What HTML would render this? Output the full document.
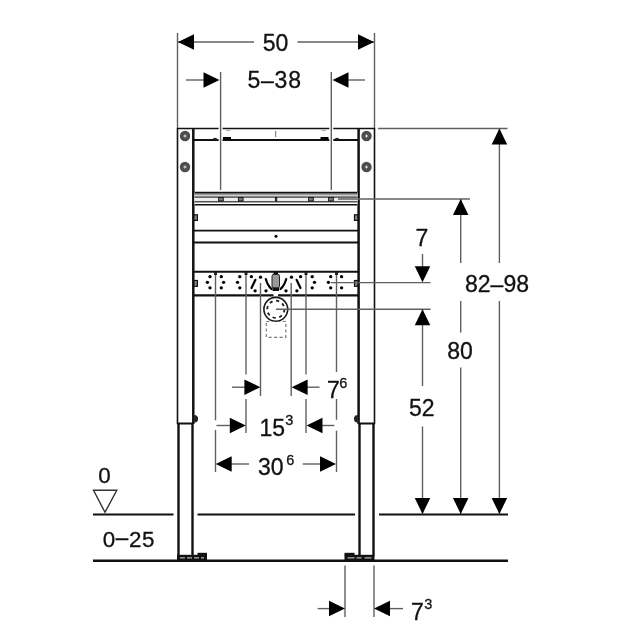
<!DOCTYPE html>
<html><head><meta charset="utf-8"><style>
html,body{margin:0;padding:0;background:#fff;}
svg{display:block;filter:grayscale(1);}
text{font-family:"Liberation Sans",sans-serif;fill:#111;stroke:#111;stroke-width:0.3px;}
</style></head><body>
<svg width="640" height="640" viewBox="0 0 640 640">
<rect width="640" height="640" fill="#fff"/>
<line x1="177.5" y1="33" x2="177.5" y2="128" stroke="#606060" stroke-width="1.4" />
<line x1="374.5" y1="33" x2="374.5" y2="128" stroke="#606060" stroke-width="1.4" />
<line x1="178" y1="42" x2="254" y2="42" stroke="#606060" stroke-width="1.4" />
<line x1="297.5" y1="42" x2="374" y2="42" stroke="#606060" stroke-width="1.4" />
<polygon points="178.00,42.00 194.00,34.25 194.00,49.75" fill="#000"/>
<polygon points="374.00,42.00 358.00,34.25 358.00,49.75" fill="#000"/>
<text x="275.5" y="50.5" font-size="23" text-anchor="middle" >50</text>
<line x1="186" y1="80" x2="204" y2="80" stroke="#606060" stroke-width="1.4" />
<line x1="347" y1="80" x2="365" y2="80" stroke="#606060" stroke-width="1.4" />
<polygon points="219.50,80.00 203.50,72.25 203.50,87.75" fill="#000"/>
<polygon points="332.50,80.00 348.50,72.25 348.50,87.75" fill="#000"/>
<text x="274.6" y="87.8" font-size="23" text-anchor="middle" letter-spacing="0.8">5–38</text>
<line x1="177" y1="128.5" x2="375" y2="128.5" stroke="#111" stroke-width="1.6" />
<line x1="177.5" y1="128" x2="177.5" y2="424" stroke="#111" stroke-width="1.6" />
<line x1="193.3" y1="128" x2="193.3" y2="424" stroke="#111" stroke-width="2.5" />
<line x1="358.6" y1="128" x2="358.6" y2="424" stroke="#111" stroke-width="2.5" />
<line x1="374.5" y1="128" x2="374.5" y2="424" stroke="#111" stroke-width="1.6" />
<line x1="177" y1="423.5" x2="193.5" y2="423.5" stroke="#111" stroke-width="2" />
<line x1="358" y1="423.5" x2="375" y2="423.5" stroke="#111" stroke-width="2" />
<circle cx="185" cy="136" r="5.2" fill="#4d4d4d"/>
<path d="M183.4 136h3.2M185 134.4v3.2" stroke="#ddd" stroke-width="1.1"/>
<circle cx="185" cy="167" r="5.2" fill="#4d4d4d"/>
<path d="M183.4 167h3.2M185 165.4v3.2" stroke="#ddd" stroke-width="1.1"/>
<circle cx="366.5" cy="136" r="5.2" fill="#4d4d4d"/>
<path d="M364.9 136h3.2M366.5 134.4v3.2" stroke="#ddd" stroke-width="1.1"/>
<circle cx="366.5" cy="167" r="5.2" fill="#4d4d4d"/>
<path d="M364.9 167h3.2M366.5 165.4v3.2" stroke="#ddd" stroke-width="1.1"/>
<line x1="193.5" y1="140" x2="358.5" y2="140" stroke="#111" stroke-width="2.2" />
<line x1="275.6" y1="131" x2="275.6" y2="137" stroke="#888" stroke-width="1.2" />
<line x1="226" y1="130.6" x2="230.5" y2="130.6" stroke="#aaa" stroke-width="1" />
<line x1="321.5" y1="130.6" x2="326" y2="130.6" stroke="#aaa" stroke-width="1" />
<rect x="223" y="137" width="8" height="2.5" fill="#000"/>
<rect x="320.5" y="137" width="8" height="2.5" fill="#000"/>
<path d="M212 139.5 q3 -3.5 6 0z" fill="#222"/>
<path d="M334 139.5 q3 -3.5 6 0z" fill="#222"/>
<rect x="218.6" y="127" width="4" height="3.2" fill="#fff"/>
<rect x="218.6" y="138.6" width="4" height="3" fill="#fff"/>
<rect x="329.3" y="127" width="4" height="3.2" fill="#fff"/>
<rect x="329.3" y="138.6" width="4" height="3" fill="#fff"/>
<line x1="220.6" y1="72" x2="220.6" y2="190" stroke="#606060" stroke-width="1.4" />
<line x1="331.3" y1="72" x2="331.3" y2="190" stroke="#606060" stroke-width="1.4" />
<rect x="194.5" y="192" width="163" height="13.5" fill="#fff"/>
<rect x="194.5" y="193.4" width="163" height="1.6" fill="#9a9a9a"/>
<rect x="194.5" y="195" width="163" height="1.6" fill="#cfcfcf"/>
<rect x="194.5" y="197.8" width="163" height="3.3" fill="#eee"/>
<line x1="194.5" y1="192.65" x2="357.5" y2="192.65" stroke="#111" stroke-width="1.7" />
<line x1="194.5" y1="197.2" x2="357.5" y2="197.2" stroke="#333" stroke-width="1.3" />
<line x1="194.5" y1="201.75" x2="357.5" y2="201.75" stroke="#555" stroke-width="1.4" />
<line x1="194.5" y1="204.75" x2="357.5" y2="204.75" stroke="#111" stroke-width="1.5" />
<rect x="218.6" y="197.4" width="4.7" height="3.6" fill="#777" stroke="#111" stroke-width="0.9"/>
<rect x="238.4" y="197.4" width="4.7" height="3.6" fill="#777" stroke="#111" stroke-width="0.9"/>
<rect x="275.4" y="197.4" width="1.4000000000000001" height="3.6" fill="#777" stroke="#111" stroke-width="0.9"/>
<rect x="308.59999999999997" y="197.4" width="4.7" height="3.6" fill="#777" stroke="#111" stroke-width="0.9"/>
<rect x="328.59999999999997" y="197.4" width="4.7" height="3.6" fill="#777" stroke="#111" stroke-width="0.9"/>
<rect x="194" y="214.8" width="3.4" height="5.6" fill="#888" stroke="#111" stroke-width="1.2"/>
<rect x="354.5" y="214.8" width="3.4" height="5.6" fill="#888" stroke="#111" stroke-width="1.2"/>
<line x1="193.5" y1="230.6" x2="358.5" y2="230.6" stroke="#111" stroke-width="1.6" />
<line x1="193.5" y1="242.5" x2="358.5" y2="242.5" stroke="#111" stroke-width="2.2" />
<circle cx="276" cy="236.2" r="1.5" fill="#000"/>
<line x1="193.5" y1="271.8" x2="358.5" y2="271.8" stroke="#111" stroke-width="2" />
<line x1="193.5" y1="295.3" x2="358.5" y2="295.3" stroke="#111" stroke-width="2.2" />
<rect x="194" y="280.5" width="3.4" height="5.8" fill="#888" stroke="#111" stroke-width="1.2"/>
<rect x="354.5" y="280.5" width="3.4" height="5.8" fill="#888" stroke="#111" stroke-width="1.2"/>
<line x1="215.5" y1="273" x2="215.5" y2="472" stroke="#606060" stroke-width="1.4" />
<line x1="246" y1="273" x2="246" y2="433" stroke="#606060" stroke-width="1.4" />
<line x1="260.5" y1="283" x2="260.5" y2="396" stroke="#606060" stroke-width="1.4" />
<line x1="291.2" y1="283" x2="291.2" y2="396" stroke="#606060" stroke-width="1.4" />
<line x1="306" y1="273" x2="306" y2="433" stroke="#606060" stroke-width="1.4" />
<line x1="336.5" y1="273" x2="336.5" y2="472" stroke="#606060" stroke-width="1.4" />
<rect x="214.0" y="272" width="3" height="3" fill="#222"/>
<rect x="244.5" y="272" width="3" height="3" fill="#222"/>
<rect x="304.5" y="272" width="3" height="3" fill="#222"/>
<rect x="335.0" y="272" width="3" height="3" fill="#222"/>
<circle cx="210" cy="276.7" r="1.65" fill="#000"/>
<circle cx="207.4" cy="282.3" r="1.65" fill="#000"/>
<circle cx="210" cy="287.8" r="1.65" fill="#000"/>
<circle cx="221.3" cy="276.7" r="1.65" fill="#000"/>
<circle cx="223.6" cy="282.3" r="1.65" fill="#000"/>
<circle cx="221.3" cy="287.8" r="1.65" fill="#000"/>
<circle cx="239.8" cy="276.7" r="1.65" fill="#000"/>
<circle cx="237.5" cy="282.3" r="1.65" fill="#000"/>
<circle cx="239.8" cy="287.8" r="1.65" fill="#000"/>
<circle cx="312.2" cy="276.7" r="1.65" fill="#000"/>
<circle cx="314.5" cy="282.3" r="1.65" fill="#000"/>
<circle cx="312.2" cy="287.8" r="1.65" fill="#000"/>
<circle cx="330.7" cy="276.7" r="1.65" fill="#000"/>
<circle cx="328.4" cy="282.3" r="1.65" fill="#000"/>
<circle cx="330.7" cy="287.8" r="1.65" fill="#000"/>
<circle cx="341.6" cy="276.7" r="1.65" fill="#000"/>
<circle cx="341.6" cy="287.8" r="1.65" fill="#000"/>
<circle cx="251.4" cy="276.7" r="1.65" fill="#000"/>
<circle cx="255.1" cy="290.8" r="1.65" fill="#000"/>
<circle cx="260.5" cy="277.2" r="1.65" fill="#000"/>
<circle cx="266" cy="290.8" r="1.65" fill="#000"/>
<circle cx="300.6" cy="276.7" r="1.65" fill="#000"/>
<circle cx="296.9" cy="290.8" r="1.65" fill="#000"/>
<circle cx="291.5" cy="277.2" r="1.65" fill="#000"/>
<circle cx="286" cy="290.8" r="1.65" fill="#000"/>
<path d="M255.4 279.8 L251.5 288" stroke="#000" stroke-width="2.2" stroke-linecap="round"/>
<path d="M296.6 279.8 L300.5 288" stroke="#000" stroke-width="2.2" stroke-linecap="round"/>
<path d="M265.8 279 Q267.5 285.5 271.5 289" stroke="#000" stroke-width="2.2" fill="none" stroke-linecap="round"/>
<path d="M286.2 279 Q284.5 285.5 280.5 289" stroke="#000" stroke-width="2.2" fill="none" stroke-linecap="round"/>
<rect x="272" y="274.2" width="7.5" height="14" rx="2" fill="#999" stroke="#222" stroke-width="1"/>
<rect x="272.5" y="287.5" width="6.5" height="3.5" fill="#111"/>
<rect x="273.5" y="272" width="4.5" height="2.5" fill="#111"/>
<rect x="273.5" y="293" width="4.5" height="3.5" fill="#fff"/>
<circle cx="275.8" cy="309.3" r="11.9" fill="#fff" stroke="#1a1a1a" stroke-width="1.6"/>
<circle cx="275.8" cy="309.3" r="8.6" fill="none" stroke="#222" stroke-width="1.8" stroke-dasharray="3.2 3.55"/>
<line x1="276" y1="309.3" x2="430.6" y2="309.3" stroke="#606060" stroke-width="1.4" />
<rect x="266.3" y="321.5" width="19.5" height="15.8" fill="none" stroke="#777" stroke-width="1.2" stroke-dasharray="3 2.5"/>
<line x1="178.5" y1="423" x2="178.5" y2="556" stroke="#111" stroke-width="2.4" />
<line x1="192.5" y1="423" x2="192.5" y2="556" stroke="#111" stroke-width="2.4" />
<line x1="359.5" y1="423" x2="359.5" y2="556" stroke="#111" stroke-width="2.4" />
<line x1="373.5" y1="423" x2="373.5" y2="556" stroke="#111" stroke-width="2.4" />
<path d="M194.2 415 a3.8 3.8 0 0 1 0 7.7z" fill="#222"/>
<path d="M357.8 415 a3.8 3.8 0 0 0 0 7.7z" fill="#222"/>
<rect x="177" y="554.8" width="30" height="6" fill="#111"/>
<rect x="197.5" y="552.8" width="9.5" height="3" fill="#111"/>
<line x1="180" y1="557.9" x2="204" y2="557.9" stroke="#ddd" stroke-width="1" stroke-dasharray="5 2"/>
<rect x="344.5" y="554.8" width="30" height="6" fill="#111"/>
<rect x="344.5" y="552.8" width="10" height="3" fill="#111"/>
<line x1="347.5" y1="557.9" x2="371.5" y2="557.9" stroke="#ddd" stroke-width="1" stroke-dasharray="7 2 5 3"/>
<line x1="93" y1="514.5" x2="173.5" y2="514.5" stroke="#111" stroke-width="2.2" />
<line x1="197.5" y1="514.5" x2="355" y2="514.5" stroke="#111" stroke-width="2.2" />
<line x1="379" y1="514.5" x2="508" y2="514.5" stroke="#111" stroke-width="2.2" />
<line x1="93" y1="560.8" x2="508" y2="560.8" stroke="#111" stroke-width="2.4" />
<path d="M93.5 490.3 H116.8 L105 512.3 Z" fill="none" stroke="#333" stroke-width="1.4" stroke-linejoin="miter"/>
<text x="104.6" y="482.6" font-size="22.4" text-anchor="middle" >0</text>
<text x="128.9" y="546.8" font-size="22.4" text-anchor="middle" letter-spacing="0.65">0<tspan dy="-1.6">–</tspan><tspan dy="1.6">25</tspan></text>
<line x1="378" y1="128.5" x2="507.5" y2="128.5" stroke="#606060" stroke-width="1.4" />
<line x1="338" y1="199" x2="470" y2="199" stroke="#606060" stroke-width="1.4" />
<line x1="331" y1="282.6" x2="430.6" y2="282.6" stroke="#606060" stroke-width="1.4" />
<line x1="499.4" y1="128.5" x2="499.4" y2="514" stroke="#606060" stroke-width="1.4" />
<line x1="460.7" y1="199" x2="460.7" y2="514" stroke="#606060" stroke-width="1.4" />
<line x1="422.5" y1="254" x2="422.5" y2="270" stroke="#606060" stroke-width="1.4" />
<line x1="422.5" y1="309.3" x2="422.5" y2="514" stroke="#606060" stroke-width="1.4" />
<polygon points="499.40,128.50 491.65,144.50 507.15,144.50" fill="#000"/>
<polygon points="499.40,514.00 491.65,498.00 507.15,498.00" fill="#000"/>
<polygon points="460.70,199.00 452.95,215.00 468.45,215.00" fill="#000"/>
<polygon points="460.70,514.00 452.95,498.00 468.45,498.00" fill="#000"/>
<polygon points="422.50,282.20 414.75,266.20 430.25,266.20" fill="#000"/>
<polygon points="422.50,309.30 414.75,325.30 430.25,325.30" fill="#000"/>
<polygon points="422.50,514.00 414.75,498.00 430.25,498.00" fill="#000"/>
<rect x="457.5" y="263" width="76" height="38" fill="#fff"/>
<text x="497" y="292" font-size="23" text-anchor="middle" >82–98</text>
<rect x="440" y="332.5" width="40" height="35" fill="#fff"/>
<text x="460" y="359" font-size="23" text-anchor="middle" >80</text>
<rect x="405" y="386" width="35" height="40.5" fill="#fff"/>
<text x="421.8" y="415.6" font-size="23" text-anchor="middle" >52</text>
<text x="422" y="245.8" font-size="23" text-anchor="middle" >7</text>
<rect x="244.0" y="374.4" width="4" height="24.600000000000023" fill="#fff"/>
<rect x="304.0" y="374.4" width="4" height="24.600000000000023" fill="#fff"/>
<rect x="213.6" y="420.3" width="4" height="9.699999999999989" fill="#fff"/>
<rect x="334.2" y="419.8" width="4" height="10.899999999999977" fill="#fff"/>
<line x1="232" y1="387.2" x2="245" y2="387.2" stroke="#606060" stroke-width="1.4" />
<line x1="307" y1="387.2" x2="319.5" y2="387.2" stroke="#606060" stroke-width="1.4" />
<polygon points="260.40,387.20 244.40,379.45 244.40,394.95" fill="#000"/>
<polygon points="291.60,387.20 307.60,379.45 307.60,394.95" fill="#000"/>
<rect x="324" y="372" width="26" height="27" fill="#fff"/>
<text x="327" y="397.5" font-size="23" text-anchor="start" >7</text>
<text x="339.3" y="388.2" font-size="14.5" text-anchor="start" >6</text>
<line x1="216.5" y1="425.5" x2="230" y2="425.5" stroke="#606060" stroke-width="1.4" />
<line x1="322" y1="425.5" x2="334.4" y2="425.5" stroke="#606060" stroke-width="1.4" />
<polygon points="245.80,425.50 229.80,417.75 229.80,433.25" fill="#000"/>
<polygon points="306.50,425.50 322.50,417.75 322.50,433.25" fill="#000"/>
<text x="259.5" y="435.8" font-size="23" text-anchor="start" >15</text>
<text x="285.3" y="424.6" font-size="14.5" text-anchor="start" >3</text>
<line x1="231" y1="464" x2="249" y2="464" stroke="#606060" stroke-width="1.4" />
<line x1="302.7" y1="464" x2="320" y2="464" stroke="#606060" stroke-width="1.4" />
<polygon points="215.70,464.00 231.70,456.25 231.70,471.75" fill="#000"/>
<polygon points="336.00,464.00 320.00,456.25 320.00,471.75" fill="#000"/>
<text x="258" y="474.5" font-size="23" text-anchor="start" >30</text>
<text x="286.2" y="465" font-size="14.5" text-anchor="start" >6</text>
<line x1="345" y1="565.5" x2="345" y2="617" stroke="#606060" stroke-width="1.4" />
<line x1="374" y1="565.5" x2="374" y2="617" stroke="#606060" stroke-width="1.4" />
<line x1="317.7" y1="608.6" x2="330" y2="608.6" stroke="#606060" stroke-width="1.4" />
<line x1="390" y1="608.6" x2="403" y2="608.6" stroke="#606060" stroke-width="1.4" />
<polygon points="345.00,608.60 329.00,600.85 329.00,616.35" fill="#000"/>
<polygon points="374.00,608.60 390.00,600.85 390.00,616.35" fill="#000"/>
<text x="411" y="620" font-size="23" text-anchor="start" >7</text>
<text x="424.3" y="609.3" font-size="14.5" text-anchor="start" >3</text>
</svg>
</body></html>
